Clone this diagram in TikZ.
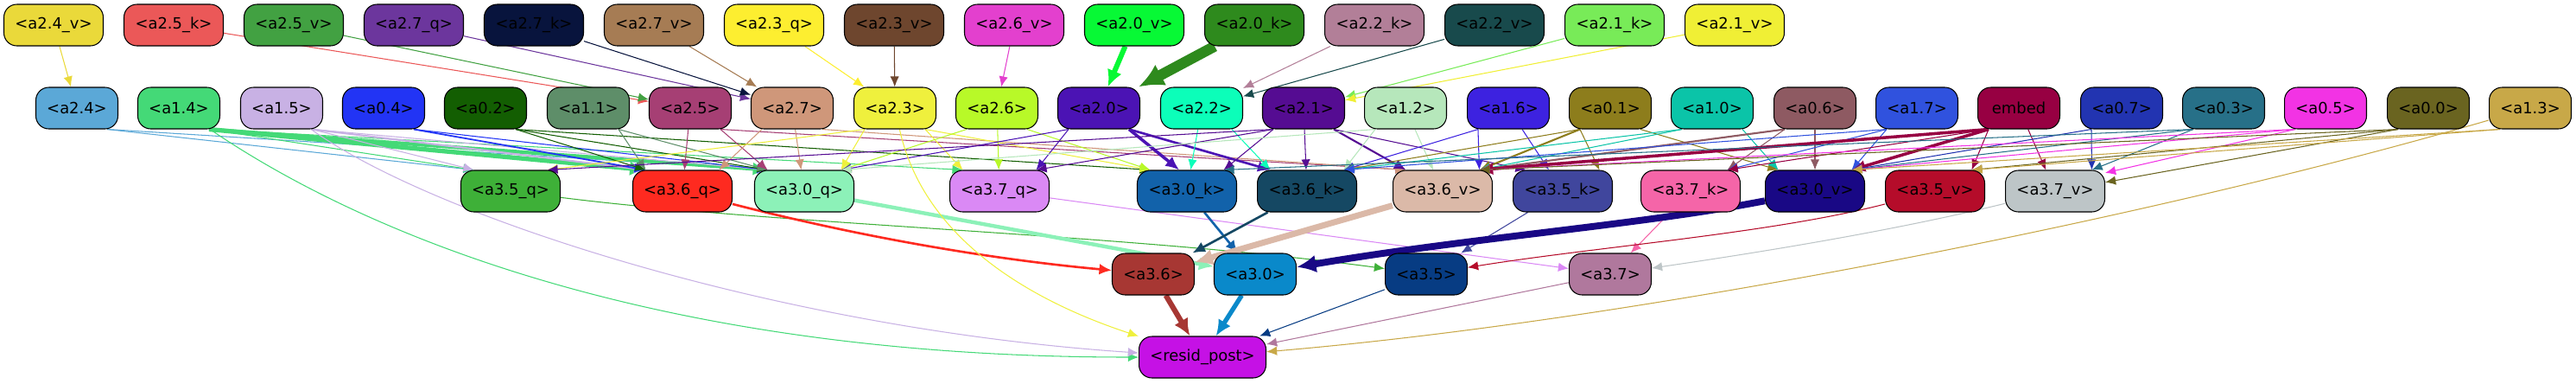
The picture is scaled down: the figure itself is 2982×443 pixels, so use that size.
\documentclass[tikz,border=0pt]{standalone}
\usepackage{fontspec}
\setmainfont{DejaVu Sans}
\usetikzlibrary{arrows.meta,backgrounds}

\definecolor{c24v}{HTML}{EAD93A}
\definecolor{c25k}{HTML}{EB5858}
\definecolor{c25v}{HTML}{42A142}
\definecolor{c27q}{HTML}{6C369D}
\definecolor{c27k}{HTML}{08143D}
\definecolor{c27v}{HTML}{A67C54}
\definecolor{c23q}{HTML}{FDEE30}
\definecolor{c23v}{HTML}{6E462E}
\definecolor{c26v}{HTML}{E340CE}
\definecolor{c20v}{HTML}{07F935}
\definecolor{c20k}{HTML}{2E8A1D}
\definecolor{c22k}{HTML}{B27F98}
\definecolor{c22v}{HTML}{184A4C}
\definecolor{c21k}{HTML}{78EB58}
\definecolor{c21v}{HTML}{F0EF35}
\definecolor{c24}{HTML}{5BA8D7}
\definecolor{c14}{HTML}{44D977}
\definecolor{c15}{HTML}{C8B1E4}
\definecolor{c04}{HTML}{2234F5}
\definecolor{c02}{HTML}{135E02}
\definecolor{c11}{HTML}{5E8E69}
\definecolor{c25}{HTML}{A63F74}
\definecolor{c27}{HTML}{CF977A}
\definecolor{c23}{HTML}{EFF03D}
\definecolor{c26}{HTML}{B8F928}
\definecolor{c20}{HTML}{4B13B4}
\definecolor{c22}{HTML}{0CFEB9}
\definecolor{c21}{HTML}{550C92}
\definecolor{c12}{HTML}{B6E7BB}
\definecolor{c16}{HTML}{3D22E0}
\definecolor{c01}{HTML}{8D7D1C}
\definecolor{c10}{HTML}{0BC4A8}
\definecolor{c06}{HTML}{8E5A62}
\definecolor{c17}{HTML}{3052DE}
\definecolor{cembed}{HTML}{970042}
\definecolor{c07}{HTML}{2234B1}
\definecolor{c03}{HTML}{277088}
\definecolor{c05}{HTML}{F233E4}
\definecolor{c00}{HTML}{6A6420}
\definecolor{c13}{HTML}{C8A848}
\definecolor{c35q}{HTML}{3EB038}
\definecolor{c36q}{HTML}{FE2A20}
\definecolor{c30q}{HTML}{8CF1B8}
\definecolor{c37q}{HTML}{DA89F5}
\definecolor{c30k}{HTML}{1262AA}
\definecolor{c36k}{HTML}{154863}
\definecolor{c36v}{HTML}{DBB9A8}
\definecolor{c35k}{HTML}{40469D}
\definecolor{c37k}{HTML}{F565A8}
\definecolor{c30v}{HTML}{190885}
\definecolor{c35v}{HTML}{B50C2A}
\definecolor{c37v}{HTML}{BDC5C7}
\definecolor{c36}{HTML}{A73733}
\definecolor{c30}{HTML}{0A89CA}
\definecolor{c35}{HTML}{073C83}
\definecolor{c37}{HTML}{B0789D}
\definecolor{cresid}{HTML}{C511E5}

\begin{document}
\begin{tikzpicture}[x=0.02cm, y=-0.02cm, >={Latex[length=6pt 1.5,width=5pt 1.5]},
        box/.style={draw=black, line width=0.6pt, rounded corners=0.3cm,
          minimum height=0.96cm, inner sep=0pt, font=\fontsize{10.2}{12}\selectfont},
        wide/.style={box, minimum width=2.3cm},
        narrow/.style={box, minimum width=1.9cm},
        link/.style={->, draw=#1, line width=0.6pt}]
        \useasboundingbox (0,0) rectangle (2982,443);

        \node[wide, fill=c24v] (a24v) at (62,29) {<a2.4\_v>};
        \node[wide, fill=c25k] (a25k) at (201,29) {<a2.5\_k>};
        \node[wide, fill=c25v] (a25v) at (340,29) {<a2.5\_v>};
        \node[wide, fill=c27q] (a27q) at (479,29) {<a2.7\_q>};
        \node[wide, fill=c27k] (a27k) at (618,29) {<a2.7\_k>};
        \node[wide, fill=c27v] (a27v) at (757,29) {<a2.7\_v>};
        \node[wide, fill=c23q] (a23q) at (896,29) {<a2.3\_q>};
        \node[wide, fill=c23v] (a23v) at (1035,29) {<a2.3\_v>};
        \node[wide, fill=c26v] (a26v) at (1174,29) {<a2.6\_v>};
        \node[wide, fill=c20v] (a20v) at (1313,29) {<a2.0\_v>};
        \node[wide, fill=c20k] (a20k) at (1452,29) {<a2.0\_k>};
        \node[wide, fill=c22k] (a22k) at (1591,29) {<a2.2\_k>};
        \node[wide, fill=c22v] (a22v) at (1730,29) {<a2.2\_v>};
        \node[wide, fill=c21k] (a21k) at (1869,29) {<a2.1\_k>};
        \node[wide, fill=c21v] (a21v) at (2008,29) {<a2.1\_v>};

        \node[narrow, fill=c24] (a24) at (89,125) {<a2.4>};
        \node[narrow, fill=c14] (a14) at (207,125) {<a1.4>};
        \node[narrow, fill=c15] (a15) at (326,125) {<a1.5>};
        \node[narrow, fill=c04] (a04) at (444,125) {<a0.4>};
        \node[narrow, fill=c02] (a02) at (562,125) {<a0.2>};
        \node[narrow, fill=c11] (a11) at (681,125) {<a1.1>};
        \node[narrow, fill=c25] (a25) at (799,125) {<a2.5>};
        \node[narrow, fill=c27] (a27) at (917,125) {<a2.7>};
        \node[narrow, fill=c23] (a23) at (1036,125) {<a2.3>};
        \node[narrow, fill=c26] (a26) at (1154,125) {<a2.6>};
        \node[narrow, fill=c20] (a20) at (1272,125) {<a2.0>};
        \node[narrow, fill=c22] (a22) at (1391,125) {<a2.2>};
        \node[narrow, fill=c21] (a21) at (1509,125) {<a2.1>};
        \node[narrow, fill=c12] (a12) at (1627,125) {<a1.2>};
        \node[narrow, fill=c16] (a16) at (1746,125) {<a1.6>};
        \node[narrow, fill=c01] (a01) at (1864,125) {<a0.1>};
        \node[narrow, fill=c10] (a10) at (1982,125) {<a1.0>};
        \node[narrow, fill=c06] (a06) at (2101,125) {<a0.6>};
        \node[narrow, fill=c17] (a17) at (2219,125) {<a1.7>};
        \node[narrow, fill=cembed] (embed) at (2337,125) {embed};
        \node[narrow, fill=c07] (a07) at (2456,125) {<a0.7>};
        \node[narrow, fill=c03] (a03) at (2574,125) {<a0.3>};
        \node[narrow, fill=c05] (a05) at (2692,125) {<a0.5>};
        \node[narrow, fill=c00] (a00) at (2811,125) {<a0.0>};
        \node[narrow, fill=c13] (a13) at (2929,125) {<a1.3>};

        \node[wide, fill=c35q] (a35q) at (591,221) {<a3.5\_q>};
        \node[wide, fill=c36q] (a36q) at (790,221) {<a3.6\_q>};
        \node[wide, fill=c30q] (a30q) at (931,221) {<a3.0\_q>};
        \node[wide, fill=c37q] (a37q) at (1157,221) {<a3.7\_q>};
        \node[wide, fill=c30k] (a30k) at (1374,221) {<a3.0\_k>};
        \node[wide, fill=c36k] (a36k) at (1513,221) {<a3.6\_k>};
        \node[wide, fill=c36v] (a36v) at (1670,221) {<a3.6\_v>};
        \node[wide, fill=c35k] (a35k) at (1809,221) {<a3.5\_k>};
        \node[wide, fill=c37k] (a37k) at (1957,221) {<a3.7\_k>};
        \node[wide, fill=c30v] (a30v) at (2101,221) {<a3.0\_v>};
        \node[wide, fill=c35v] (a35v) at (2240,221) {<a3.5\_v>};
        \node[wide, fill=c37v] (a37v) at (2379,221) {<a3.7\_v>};

        \node[narrow, fill=c36] (a36) at (1335,317) {<a3.6>};
        \node[narrow, fill=c30] (a30) at (1453,317) {<a3.0>};
        \node[narrow, fill=c35] (a35) at (1651,317) {<a3.5>};
        \node[narrow, fill=c37] (a37) at (1864,317) {<a3.7>};

        \node[box, minimum width=2.94cm, fill=cresid] (resid) at (1392,413) {<resid\_post>};

        \begin{pgfonlayer}{background}
        % top row into the middle row
        \draw[link=c24v] (a24v) -- (a24);
        \draw[link=c25k] (a25k) -- (a25);
        \draw[link=c25v] (a25v) -- (a25);
        \draw[link=c27q] (a27q) -- (a27);
        \draw[link=c27k] (a27k) -- (a27);
        \draw[link=c27v] (a27v) -- (a27);
        \draw[link=c23q] (a23q) -- (a23);
        \draw[link=c23v] (a23v) -- (a23);
        \draw[link=c26v] (a26v) -- (a26);
        \draw[link=c20v, line width=3.4pt] (a20v) -- (a20);
        \draw[link=c20k, line width=7pt] (a20k) -- (a20);
        \draw[link=c22k] (a22k) -- (a22);
        \draw[link=c22v] (a22v) -- (a22);
        \draw[link=c21k] (a21k) -- (a21);
        \draw[link=c21v] (a21v) -- (a21);

        % middle row into the third row
        \draw[link=c24] (a24.-35) -- (a35q.150);
        \draw[link=c24] (a24.-35) -- (a30q.150);
        \draw[link=c14] (a14.-35) -- (a35q.150);
        \draw[link=c14, line width=3pt] (a14.-35) -- (a36q.150);
        \draw[link=c14, line width=2.4pt] (a14.-35) -- (a30q.150);
        \draw[link=c14] (a14.-35) -- (a37q.150);
        \draw[link=c15] (a15.-35) -- (a35q.150);
        \draw[link=c15, line width=1.2pt] (a15.-35) -- (a36q.150);
        \draw[link=c15] (a15.-35) -- (a30q.150);
        \draw[link=c04, line width=1pt] (a04.-35) -- (a36q.150);
        \draw[link=c04] (a04.-35) -- (a30q.150);
        \draw[link=c02] (a02.-35) -- (a36q.150);
        \draw[link=c02] (a02.-35) -- (a30q.150);
        \draw[link=c02] (a02.-35) -- (a30k.150);
        \draw[link=c11] (a11.-35) -- (a36q.150);
        \draw[link=c11] (a11.-35) -- (a30q.150);
        \draw[link=c25] (a25) -- (a36q);
        \draw[link=c25] (a25.-35) -- (a30q.150);
        \draw[link=c25] (a25.-35) -- (a36v.150);
        \draw[link=c27] (a27.-145) -- (a36q.30);
        \draw[link=c27] (a27) -- (a30q);
        \draw[link=c27] (a27.-35) -- (a36v.150);
        \draw[link=c23] (a23.-145) -- (a35q.30);
        \draw[link=c23] (a23.-145) -- (a30q.30);
        \draw[link=c23] (a23.-35) -- (a37q.150);
        \draw[link=c23] (a23.-35) -- (a30k.150);
        \draw[link=c26] (a26.-145) -- (a30q.30);
        \draw[link=c26] (a26) -- (a37q);
        \draw[link=c26] (a26.-35) -- (a30k.150);
        \draw[link=c20, line width=2pt] (a20.-35) -- (a30k.110);
        \draw[link=c20, line width=1.5pt] (a20.-35) -- (a36k.150);
        \draw[link=c20] (a20.-145) -- (a37q.30);
        \draw[link=c20] (a20.-145) -- (a30q.30);
        \draw[link=c22] (a22) -- (a30k);
        \draw[link=c22] (a22.-35) -- (a36k.150);
        \draw[link=c21] (a21.-145) -- (a35q.30);
        \draw[link=c21, line width=1.2pt] (a21.-35) -- (a36v.150);
        \draw[link=c21] (a21.-35) -- (a35k.150);
        \draw[link=c21] (a21.-145) -- (a30k.30);
        \draw[link=c21] (a21) -- (a36k);
        \draw[link=c21] (a21.-145) -- (a37q.30);
        \draw[link=c12] (a12.-145) -- (a30q.30);
        \draw[link=c12] (a12.-145) -- (a36k.30);
        \draw[link=c12] (a12) -- (a36v);
        \draw[link=c16] (a16.-145) -- (a36v.30);
        \draw[link=c16] (a16) -- (a35k);
        \draw[link=c16] (a16.-145) -- (a36k.30);
        \draw[link=c01, line width=1.2pt] (a01.-145) -- (a36v.30);
        \draw[link=c01] (a01.-145) -- (a35k.30);
        \draw[link=c01] (a01.-145) -- (a36k.30);
        \draw[link=c01] (a01.-35) -- (a30v.150);
        \draw[link=c10] (a10.-35) -- (a30v.150);
        \draw[link=c10] (a10.-145) -- (a36v.30);
        \draw[link=c10] (a10.-145) -- (a36k.30);
        \draw[link=c06] (a06.-145) -- (a37k.30);
        \draw[link=c06] (a06) -- (a30v);
        \draw[link=c06, line width=1.2pt] (a06.-145) -- (a36v.30);
        \draw[link=c17] (a17.-145) -- (a30v.30);
        \draw[link=c17] (a17.-145) -- (a37k.30);
        \draw[link=c17] (a17.-145) -- (a36k.30);
        \draw[link=cembed] (embed.-145) -- (a35v.30);
        \draw[link=cembed] (embed) -- (a37v);
        \draw[link=cembed, line width=2pt] (embed.-145) -- (a30v.30);
        \draw[link=cembed, line width=2pt] (embed.-145) -- (a36v.30);
        \draw[link=cembed] (embed.-145) -- (a37k.30);
        \draw[link=c07] (a07.-145) -- (a30v.30);
        \draw[link=c07] (a07.-145) -- (a37v.30);
        \draw[link=c03] (a03.-145) -- (a37v.30);
        \draw[link=c03] (a03.-145) -- (a30v.30);
        \draw[link=c03] (a03.-145) -- (a30k.30);
        \draw[link=c05] (a05.-145) -- (a37v.20);
        \draw[link=c05] (a05.-145) -- (a30v.30);
        \draw[link=c05] (a05.-145) -- (a36v.30);
        \draw[link=c00] (a00.-145) -- (a37v.10);
        \draw[link=c00] (a00.-145) -- (a35v.30);
        \draw[link=c00] (a00.-145) -- (a36v.30);
        \draw[link=c13] (a13.-145) -- (a30v.30);
        \draw[link=c13] (a13.-145) -- (a35v.30);

        % third row into the fourth row
        \draw[link=c35q] (a35q) .. controls (900,260) and (1300,270) .. (a35);
        \draw[link=c36q, line width=1.5pt] (a36q) .. controls (1000,275) and (1150,300) .. (a36);
        \draw[link=c30q, line width=2.5pt] (a30q) -- (a30);
        \draw[link=c37q] (a37q) -- (a37);
        \draw[link=c30k, line width=1.5pt] (a30k) -- (a30);
        \draw[link=c36k, line width=1.5pt] (a36k) -- (a36);
        \draw[link=c36v, line width=4pt] (a36v) -- (a36);
        \draw[link=c35k] (a35k) -- (a35);
        \draw[link=c37k] (a37k) -- (a37);
        \draw[link=c30v, line width=4.5pt] (a30v) .. controls (1900,260) and (1700,275) .. (a30);
        \draw[link=c35v] (a35v) .. controls (2050,270) and (1850,285) .. (a35);
        \draw[link=c37v] (a37v) .. controls (2200,265) and (2050,290) .. (a37);

        % into resid_post
        \draw[link=c36, line width=3.5pt] (a36) -- (resid);
        \draw[link=c30, line width=3pt] (a30) -- (resid);
        \draw[link=c35] (a35) -- (resid);
        \draw[link=c37] (a37) -- (resid);
        \draw[link=c14] (a14) .. controls (450,290) and (800,413) .. (resid);
        \draw[link=c15] (a15) .. controls (500,250) and (900,380) .. (resid);
        \draw[link=c23] (a23) .. controls (1070,280) and (1200,350) .. (resid);
        \draw[link=c13] (a13) .. controls (2500,250) and (1900,370) .. (resid);
        \end{pgfonlayer}
\end{tikzpicture}
\end{document}
